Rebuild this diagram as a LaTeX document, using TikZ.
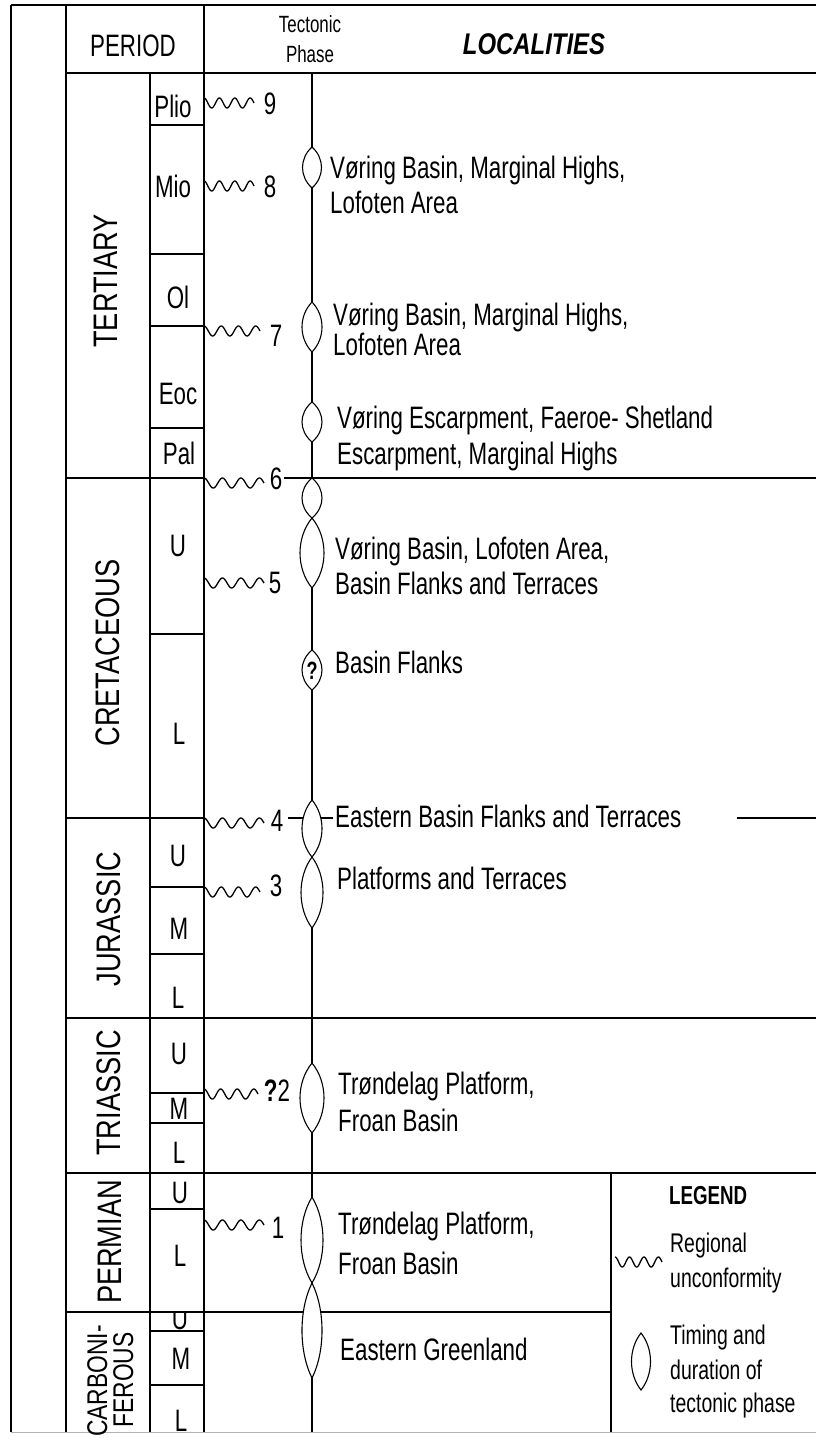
\documentclass[tikz,border=0pt]{standalone}
\usepackage{fontspec}
\setmainfont{Liberation Sans}
\newfontfamily\nf{Liberation Sans}[FakeStretch=0.72]
\newfontfamily\lf{Liberation Sans}[FakeStretch=0.8]
\newfontfamily\pf{Liberation Sans}[FakeStretch=0.8]
\newcommand\lensat[4]{\draw[lensst] (#1,#2) .. controls ({#1+1.333*#4},{#2+0.28*(#3-#2)}) and ({#1+1.333*#4},{#3-0.28*(#3-#2)}) .. (#1,#3) .. controls ({#1-1.333*#4},{#3-0.28*(#3-#2)}) and ({#1-1.333*#4},{#2+0.28*(#3-#2)}) .. cycle;}
\newcommand\wavyline[3]{\draw[wave] plot[domain=0:1170,samples=100] ({#1+\x/1170*#3},{#2-5*cos(\x)});}
\begin{document}
\begin{tikzpicture}[x=1pt,y=-1pt,
  ln/.style={line width=1.1pt,black},
  wave/.style={line width=1.3pt,black,line join=round},
  lensst/.style={line width=1.1pt,black,fill=white},
  loc/.style={font=\nf\fontsize{31}{33}\selectfont,anchor=west,inner sep=0pt,text height=22.2pt,text depth=0pt},
  ep/.style={font=\nf\fontsize{31}{33}\selectfont,inner sep=0pt,text height=22.2pt,text depth=0pt},
  per/.style={font=\pf\fontsize{34}{34}\selectfont,rotate=90,inner sep=0pt,text height=24.3pt,text depth=0pt},
  carb/.style={font=\pf\fontsize{28.5}{28.5}\selectfont,rotate=90,inner sep=0pt,text height=20.4pt,text depth=0pt},
  num/.style={font=\nf\fontsize{31}{33}\selectfont,inner sep=0pt,text height=22.2pt,text depth=0pt},
  hdr/.style={font=\nf\fontsize{23.5}{25}\selectfont,inner sep=0pt,text height=16.8pt,text depth=0pt},
  leg/.style={font=\nf\fontsize{27}{29}\selectfont,anchor=west,inner sep=0pt,text height=19.3pt,text depth=0pt}]
\useasboundingbox (0,0) rectangle (816,1442);
\fill[white] (0,0) rectangle (816,1442);
% frame
\draw[ln] (11,5) -- (816,5);
\draw[ln] (11,5) -- (11,1432);
\draw[ln] (66,5) -- (66,1432);
\draw[ln] (204,5) -- (204,1432);
\draw[ln] (150,73) -- (150,1432);
\draw[ln] (66,73) -- (816,73);
\draw[ln] (312,73) -- (312,1432);
\foreach \yy in {125,254,326,428,634,887,954,1093,1123,1209,1331,1385} \draw[ln] (150,\yy) -- (204,\yy);
\foreach \yy in {478,818,1018,1173,1312} \draw[ln] (66,\yy) -- (204,\yy);
\draw[ln] (284,478) -- (816,478);
\draw[ln] (288,818) -- (333,818);
\draw[ln] (737,818) -- (816,818);
\draw[ln] (204,1018) -- (816,1018);
\draw[ln] (204,1173) -- (816,1173);
\draw[ln] (204,1312) -- (611,1312);
\draw[ln] (611,1173) -- (611,1432);
\draw[gray!60,line width=0.8pt] (11,1432) -- (816,1432);
% header
\node[ep] (hper) at (133,45) {PERIOD};
\node[hdr] (htec) at (310,24) {Tectonic};
\node[hdr] (hpha) at (310,54) {Phase};
\node[font=\lf\bfseries\itshape\fontsize{29.9}{31}\selectfont,inner sep=0pt,text height=21.4pt,text depth=0pt] (hloc) at (534,44) {LOCALITIES};
% periods
\node[per] (tert) at (105,281) {TERTIARY};
\node[per] (cret) at (107,653) {CRETACEOUS};
\node[per] (jur) at (108,919) {JURASSIC};
\node[per] (tri) at (108,1093) {TRIASSIC};
\node[per] (perm) at (109,1242) {PERMIAN};
\node[carb] (carba) at (97,1381) {CARBONI-};
\node[carb] (carbb) at (123,1380) {FEROUS};
% epochs
\node[ep] (plio) at (173,106) {Plio};
\node[ep] (mio) at (173,186) {Mio};
\node[ep] (ol) at (178,297) {Ol};
\node[ep] (eoc) at (178,393) {Eoc};
\node[ep] (pal) at (179,453) {Pal};
\node[ep] (ku) at (178,545) {U};
\node[ep] (kl) at (179,733) {L};
\node[ep] (ju) at (178,855) {U};
\node[ep] (jm) at (179,928) {M};
\node[ep] (jl) at (178,997) {L};
\node[ep] (tu) at (179,1053) {U};
\node[ep] (tm) at (179,1108) {M};
\node[ep] (tl) at (179,1152) {L};
\node[ep] (pu) at (180,1192) {U};
\node[ep] (pl) at (180,1255) {L};
\begin{scope}
\clip (150,1313) rectangle (204,1331);
\node[ep] (cu) at (180,1318) {U};
\end{scope}
\node[ep] (cm) at (181,1358) {M};
\node[ep] (cl) at (181,1420) {L};
% unconformities
\wavyline{204}{103}{50}
\wavyline{204}{186}{50}
\wavyline{204}{331}{56}
\wavyline{204}{483}{60}
\wavyline{204}{583}{60}
\wavyline{204}{823}{60}
\wavyline{204}{892}{56}
\wavyline{204}{1094}{54}
\wavyline{204}{1225}{60}
\node[num] (n9) at (270,103) {9};
\node[num] (n8) at (270,186) {8};
\node[num] (n7) at (276,335) {7};
\node[num] (n6) at (276,478) {6};
\node[num] (n5) at (275,582) {5};
\node[num] (n4) at (277,820) {4};
\node[num] (n3) at (276,885) {3};
\node[num] (n2) at (277,1090) {\textbf{?}2};
\node[num] (n1) at (278,1227) {1};
% tectonic phases
\lensat{312}{147}{188}{9.5}
\lensat{312}{302}{352}{10}
\lensat{312}{402}{442}{10}
\lensat{312}{478}{518}{10}
\lensat{312}{518}{588}{12}
\lensat{312}{650}{690}{10}
\lensat{312}{800}{857}{10}
\lensat{312}{857}{928}{11}
\lensat{312}{1063}{1133}{12}
\lensat{312}{1197}{1283}{11}
\lensat{312}{1283}{1378}{10}
\node[font=\nf\bfseries\fontsize{25}{25}\selectfont,inner sep=0pt,text height=18pt,text depth=0pt] (q) at (312,670) {?};
% localities
\node[loc] (t1a) at (330,167) {Vøring Basin, Marginal Highs,};
\node[loc] (t1b) at (330,202) {Lofoten Area};
\node[loc] (t2a) at (333,314) {Vøring Basin, Marginal Highs,};
\node[loc] (t2b) at (333,344) {Lofoten Area};
\node[loc] (t3a) at (337,417) {Vøring Escarpment, Faeroe- Shetland};
\node[loc] (t3b) at (337,453) {Escarpment, Marginal Highs};
\node[loc] (t4a) at (335,548) {Vøring Basin, Lofoten Area,};
\node[loc] (t4b) at (335,583) {Basin Flanks and Terraces};
\node[loc] (t5) at (335,662) {Basin Flanks};
\node[loc] (t6) at (335,816) {Eastern Basin Flanks and Terraces};
\node[loc] (t7) at (337,878) {Platforms and Terraces};
\node[loc] (t8a) at (338,1083) {Trøndelag Platform,};
\node[loc] (t8b) at (338,1120) {Froan Basin};
\node[loc] (t9a) at (338,1223) {Trøndelag Platform,};
\node[loc] (t9b) at (338,1263) {Froan Basin};
\node[loc] (t10) at (340,1349) {Eastern Greenland};
% legend
\node[leg,font=\nf\bfseries\fontsize{26}{28}\selectfont,text height=18.6pt] (lg) at (669,1195) {LEGEND};
\wavyline{615}{1262}{47}
\node[leg] (lg1) at (670,1243) {Regional};
\node[leg] (lg2) at (670,1278) {unconformity};
\lensat{641}{1333}{1390}{9.5}
\node[leg] (lg3) at (670,1335) {Timing and};
\node[leg] (lg4) at (670,1370) {duration of};
\node[leg] (lg5) at (670,1403) {tectonic phase};
\end{tikzpicture}
\end{document}
